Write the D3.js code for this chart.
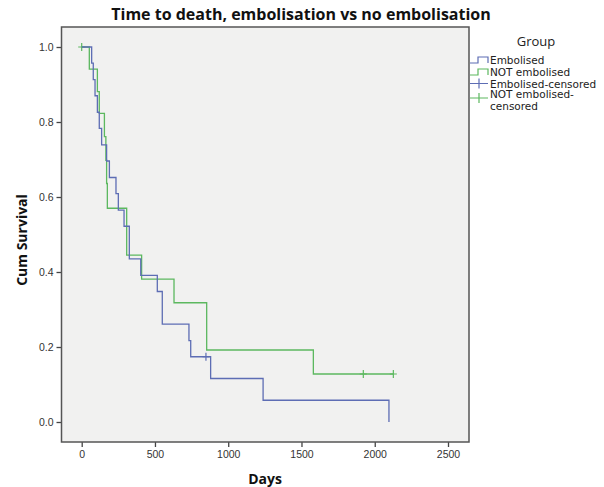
<!DOCTYPE html>
<html>
<head>
<meta charset="utf-8">
<script src="https://cdn.jsdelivr.net/npm/d3@7"></script>
<style>
  body { margin: 0; background: #fff; }
  svg { font-family: "Open Sans", "DejaVu Sans", sans-serif; }
  .tick text { fill: #333; font-size: 10.5px; }
  .tick line { stroke: #444; stroke-width: 1.3; }
  .legend-item { font-family: "DejaVu Sans", sans-serif; font-size: 10.5px; fill: #222; }
</style>
</head>
<body>
<svg width="604" height="487"></svg>
<script>
// Kaplan-Meier steps
var embolisedDays = [0, 68, 79, 91, 107, 120, 136, 170, 189, 234, 250, 289, 325, 403, 516, 550, 732, 744, 880, 1238, 2097];
var embolisedSurv = [1, .957, .913, .870, .826, .783, .739, .696, .652, .609, .565, .522, .435, .391, .348, .261, .217, .174, .116, .058, 0];
var embolisedCensorDays = [848];
var embolisedCensorSurv = [.174];

var notEmbDays = [0, 52, 107, 120, 155, 165, 170, 175, 307, 409, 630, 853, 1581, 2127];
var notEmbSurv = [1, .941, .881, .823, .761, .698, .636, .570, .445, .381, .318, .192, .128, .128];
var notEmbCensorDays = [0, 1922, 2127];
var notEmbCensorSurv = [1, .128, .128];

var xTicks = [0, 500, 1000, 1500, 2000, 2500];
var yTicks = [0, 0.2, 0.4, 0.6, 0.8, 1.0];

var blue = '#5d6db4', green = '#5cb85f';

var svg = d3.select('svg');

var frame = {left: 61.5, right: 469, top: 27, bottom: 442};

var x = d3.scaleLinear().domain([0, 2500]).range([81.7, 448]);
var y = d3.scaleLinear().domain([0, 1]).range([422, 47]);

// plot background + border
svg.append('rect')
    .attr('x', frame.left).attr('y', frame.top)
    .attr('width', frame.right - frame.left)
    .attr('height', frame.bottom - frame.top)
    .attr('fill', '#f1f1f0');

// axes
svg.append('g')
    .attr('transform', 'translate(0,' + frame.bottom + ')')
    .call(d3.axisBottom(x).tickValues(xTicks).tickSize(5).tickPadding(4).tickFormat(d3.format('d')))
    .call(g => g.select('.domain').remove());

svg.append('g')
    .attr('transform', 'translate(' + frame.left + ',0)')
    .call(d3.axisLeft(y).tickValues(yTicks).tickSize(5).tickPadding(3).tickFormat(d3.format('.1f')))
    .call(g => g.select('.domain').remove());

function pairs(days, surv) {
    return days.map((d, i) => [d, surv[i]]);
}

var stepLine = d3.line()
    .x(d => x(d[0]))
    .y(d => y(d[1]))
    .curve(d3.curveStepAfter);

var series = [
    {pts: pairs(notEmbDays, notEmbSurv), cen: pairs(notEmbCensorDays, notEmbCensorSurv), color: green},
    {pts: pairs(embolisedDays, embolisedSurv), cen: pairs(embolisedCensorDays, embolisedCensorSurv), color: blue}
];

series.forEach(s => {
    svg.append('path')
        .datum(s.pts)
        .attr('d', stepLine)
        .attr('fill', 'none')
        .attr('stroke', s.color)
        .attr('stroke-width', 1.3);

    // censor ticks
    svg.selectAll(null)
        .data(s.cen)
        .enter()
        .append('path')
        .attr('d', d => 'M' + (x(d[0]) - 3.5) + ',' + y(d[1]) + 'H' + (x(d[0]) + 3.5) +
            'M' + x(d[0]) + ',' + (y(d[1]) - 4) + 'V' + (y(d[1]) + 4))
        .attr('stroke', s.color)
        .attr('stroke-width', 1.2);
});

svg.append('rect')
    .attr('x', frame.left).attr('y', frame.top)
    .attr('width', frame.right - frame.left)
    .attr('height', frame.bottom - frame.top)
    .attr('fill', 'none')
    .attr('stroke', '#555')
    .attr('stroke-width', 1.5);

// titles
svg.append('text')
    .attr('x', 301).attr('y', 20)
    .attr('text-anchor', 'middle')
    .style('font-weight', 'bold').style('font-size', '16px').attr('fill', '#111')
    .text('Time to death, embolisation vs no embolisation');

svg.append('text')
    .attr('x', 265).attr('y', 484)
    .attr('text-anchor', 'middle')
    .style('font-weight', 'bold').style('font-size', '14px').attr('fill', '#111')
    .text('Days');

svg.append('text')
    .attr('transform', 'translate(27,240) rotate(-90)')
    .attr('text-anchor', 'middle')
    .style('font-weight', 'bold').style('font-size', '14px').attr('fill', '#111')
    .text('Cum Survival');

// legend
var legendNames = ['Embolised', 'NOT embolised', 'Embolised-censored', 'NOT embolised-censored'];
var legendColors = [blue, green, blue, green];
var legendY = [60, 72, 83.5, 98];

var lg = svg.append('g');
lg.append('text')
    .attr('x', 536).attr('y', 46)
    .attr('text-anchor', 'middle')
    .style('font-size', '13px').attr('fill', '#222')
    .text('Group');

legendNames.forEach((name, i) => {
    var cy = legendY[i];
    var sym = i < 2
        ? 'M470,' + (cy + 3) + 'H478V' + (cy - 3) + 'H488V' + (cy + 3)
        : 'M470,' + cy + 'H488M479,' + (cy - 5) + 'V' + (cy + 5);
    lg.append('path')
        .attr('d', sym)
        .attr('fill', 'none')
        .attr('stroke', legendColors[i])
        .attr('stroke-width', 1.2);
    var t = lg.append('text')
        .attr('class', 'legend-item')
        .attr('x', 490).attr('y', cy + 4);
    if (i === 3) {
        t.append('tspan').attr('x', 490).attr('y', cy).text('NOT embolised-');
        t.append('tspan').attr('x', 490).attr('y', cy + 11.5).text('censored');
    } else {
        t.text(name);
    }
});
</script>
</body>
</html>
